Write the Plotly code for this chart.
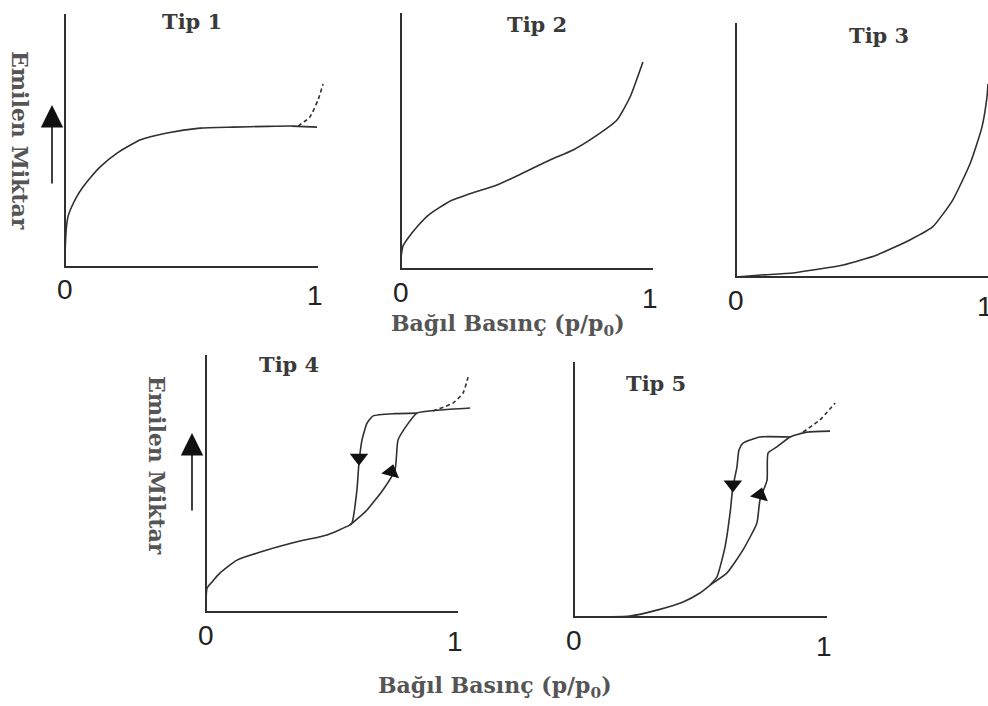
import plotly.graph_objects as go

W, H = 988, 706

# ---------------- data (relative pressure p/p0 vs adsorbed amount, normalised) ----------------
frame_x = [0, 0, 1]
frame_y = [1, 0, 0]

t1_x = [0.0, 0.002, 0.006, 0.012, 0.026, 0.046, 0.071, 0.10, 0.138, 0.206, 0.296, 0.403, 0.534, 0.664, 0.80, 0.90, 0.996]
t1_y = [0.04, 0.10, 0.16, 0.20, 0.237, 0.277, 0.316, 0.353, 0.395, 0.45, 0.502, 0.53, 0.549, 0.553, 0.556, 0.557, 0.553]
t1_dash_x = [0.921, 0.968, 1.0, 1.02]
t1_dash_y = [0.557, 0.593, 0.66, 0.723]

t2_x = [0.0, 0.008, 0.024, 0.063, 0.115, 0.194, 0.286, 0.381, 0.484, 0.591, 0.683, 0.762, 0.857, 0.909, 0.96]
t2_y = [0.047, 0.09, 0.115, 0.164, 0.215, 0.265, 0.298, 0.328, 0.375, 0.426, 0.465, 0.512, 0.582, 0.672, 0.809]

t3_x = [0.0, 0.1, 0.226, 0.425, 0.56, 0.69, 0.78, 0.86, 0.93, 0.976, 0.996, 1.0]
t3_y = [0.0, 0.008, 0.016, 0.047, 0.087, 0.146, 0.197, 0.303, 0.449, 0.59, 0.709, 0.76]

t4_ads_x = [0.0, 0.004, 0.024, 0.056, 0.123, 0.242, 0.373, 0.48, 0.571, 0.639, 0.702, 0.75, 0.762, 0.798, 0.837, 0.929, 1.048]
t4_ads_y = [0.019, 0.093, 0.117, 0.152, 0.202, 0.241, 0.276, 0.30, 0.339, 0.397, 0.475, 0.553, 0.669, 0.728, 0.774, 0.786, 0.794]
t4_des_x = [0.837, 0.75, 0.663, 0.639, 0.619, 0.607, 0.599, 0.579, 0.571]
t4_des_y = [0.774, 0.772, 0.763, 0.735, 0.669, 0.58, 0.475, 0.346, 0.339]
t4_dash_x = [0.90, 0.98, 1.02, 1.04]
t4_dash_y = [0.782, 0.813, 0.852, 0.914]
t4_arrow_down = (0.607, 0.60)
t4_arrow_up = (0.735, 0.545)

t5_ads_x = [0.0, 0.221, 0.328, 0.431, 0.498, 0.538, 0.605, 0.668, 0.723, 0.735, 0.763, 0.767, 0.802, 0.854, 0.921, 1.012]
t5_ads_y = [0.0, 0.004, 0.027, 0.059, 0.094, 0.125, 0.173, 0.263, 0.369, 0.459, 0.537, 0.643, 0.667, 0.706, 0.725, 0.729]
t5_des_x = [0.854, 0.735, 0.668, 0.652, 0.644, 0.628, 0.617, 0.597, 0.565, 0.538]
t5_des_y = [0.706, 0.706, 0.682, 0.655, 0.588, 0.51, 0.408, 0.275, 0.157, 0.125]
t5_dash_x = [0.905, 0.972, 1.032]
t5_dash_y = [0.725, 0.773, 0.839]
t5_arrow_down = (0.628, 0.52)
t5_arrow_up = (0.735, 0.478)

titles = ["Tip 1", "Tip 2", "Tip 3", "Tip 4", "Tip 5"]
tick_labels = ["0", "1"]
y_label = "Emilen Miktar"
x_label = "Bağıl Basınç (p/p<sub>0</sub>)"

# ---------------- layout geometry (pixel origin and scale of each panel) ----------------
panels = [
    dict(ox=65, oy=267, sx=253, sy=253, tx=192, ty=21),
    dict(ox=401, oy=269, sx=252, sy=256, tx=537, ty=24),
    dict(ox=736, oy=277, sx=252, sy=254, tx=879, ty=35),
    dict(ox=206, oy=612, sx=252, sy=257, tx=289, ty=364),
    dict(ox=574, oy=617, sx=253, sy=255, tx=656, ty=383),
]

LINE = "#303030"
SERIF = "DejaVu Serif"

fig = go.Figure()
layout = {}
annotations = []

def axname(i):
    return ("x" if i == 0 else f"x{i+1}"), ("y" if i == 0 else f"y{i+1}")

for i, p in enumerate(panels):
    xr = [-0.05, min(1.1, (W - p["ox"]) / p["sx"])]
    yr = [-0.05, 1.05]
    dx = [max(0, (p["ox"] + xr[0] * p["sx"]) / W), min(1, (p["ox"] + xr[1] * p["sx"]) / W)]
    dy = [max(0, 1 - (p["oy"] - yr[0] * p["sy"]) / H), min(1, 1 - (p["oy"] - yr[1] * p["sy"]) / H)]
    xk = "xaxis" if i == 0 else f"xaxis{i+1}"
    yk = "yaxis" if i == 0 else f"yaxis{i+1}"
    xa, ya = axname(i)
    layout[xk] = dict(domain=dx, range=xr, visible=False, fixedrange=True, anchor=ya)
    layout[yk] = dict(domain=dy, range=yr, visible=False, fixedrange=True, anchor=xa)
    # axis frame
    fig.add_trace(go.Scatter(x=frame_x, y=frame_y, mode="lines", xaxis=xa, yaxis=ya,
                             line=dict(color=LINE, width=2), hoverinfo="skip", showlegend=False))
    # tick labels
    annotations.append(dict(x=0, y=0, xref=xa, yref=ya, text=tick_labels[0], showarrow=False,
                            yshift=-23, xanchor="center", yanchor="middle",
                            font=dict(family="Liberation Sans", size=28, color="#222")))
    annotations.append(dict(x=0.99, y=0, xref=xa, yref=ya, text=tick_labels[1], showarrow=False,
                            yshift=-29, xanchor="center", yanchor="middle",
                            font=dict(family="Liberation Sans", size=28, color="#222")))
    # title
    annotations.append(dict(x=p["tx"] / W, y=1 - p["ty"] / H, xref="paper", yref="paper",
                            text="<b>%s</b>" % titles[i], showarrow=False,
                            xanchor="center", yanchor="middle",
                            font=dict(family=SERIF, size=21, color="#3a3a3a")))

def curve(i, x, y, dash=None):
    xa, ya = axname(i)
    fig.add_trace(go.Scatter(x=x, y=y, mode="lines", xaxis=xa, yaxis=ya,
                             line=dict(color=LINE, width=1.6, shape="spline", smoothing=0.5,
                                       dash=dash if dash else "solid"),
                             hoverinfo="skip", showlegend=False))

def marker(i, pt, symbol, angle=0):
    xa, ya = axname(i)
    fig.add_trace(go.Scatter(x=[pt[0]], y=[pt[1]], mode="markers", xaxis=xa, yaxis=ya,
                             marker=dict(symbol=symbol, size=16, color="#111", angle=angle,
                                         line=dict(width=0)),
                             hoverinfo="skip", showlegend=False))

curve(0, t1_x, t1_y)
curve(0, t1_dash_x, t1_dash_y, dash="4px,3px")
curve(1, t2_x, t2_y)
curve(2, t3_x, t3_y)
curve(3, t4_ads_x, t4_ads_y)
curve(3, t4_des_x, t4_des_y)
curve(3, t4_dash_x, t4_dash_y, dash="4px,3px")
marker(3, t4_arrow_down, "triangle-down")
marker(3, t4_arrow_up, "triangle-up", angle=15)
curve(4, t5_ads_x, t5_ads_y)
curve(4, t5_des_x, t5_des_y)
curve(4, t5_dash_x, t5_dash_y, dash="4px,3px")
marker(4, t5_arrow_down, "triangle-down")
marker(4, t5_arrow_up, "triangle-up", angle=15)

# y-axis labels with arrows
for (lx, ly, ax_x, head_y, tail_len) in [(20, 140, 52, 105, 80), (157, 465, 192, 433, 79)]:
    annotations.append(dict(x=lx / W, y=1 - ly / H, xref="paper", yref="paper",
                            text="<b>%s</b>" % y_label, textangle=90, showarrow=False,
                            xanchor="center", yanchor="middle",
                            font=dict(family=SERIF, size=22, color="#555")))
    annotations.append(dict(x=ax_x / W, y=1 - head_y / H, xref="paper", yref="paper",
                            text="", showarrow=True, ax=0, ay=tail_len,
                            arrowhead=2, arrowsize=2.8, arrowwidth=1.6, arrowcolor="#111",
                            standoff=0))

# x-axis labels
for (lx, ly) in [(508, 325), (495, 687)]:
    annotations.append(dict(x=lx / W, y=1 - ly / H, xref="paper", yref="paper",
                            text="<b>%s</b>" % x_label, showarrow=False,
                            xanchor="center", yanchor="middle",
                            font=dict(family=SERIF, size=22, color="#555")))

fig.update_layout(**layout)
fig.update_layout(width=W, height=H, margin=dict(l=0, r=0, t=0, b=0),
                  paper_bgcolor="white", plot_bgcolor="rgba(0,0,0,0)",
                  annotations=annotations, showlegend=False)

fig.write_html("out.html")
